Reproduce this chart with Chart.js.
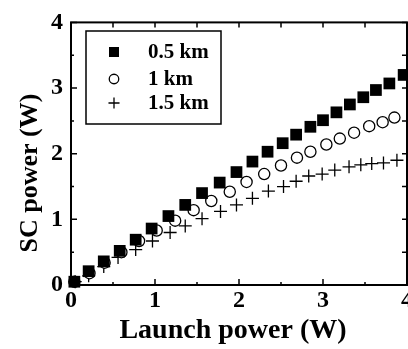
<!DOCTYPE html>
<html>
<head>
<meta charset="utf-8">
<script src="https://cdn.jsdelivr.net/npm/chart.js@4"></script>
<style>
  html, body { margin: 0; padding: 0; background: #fff; overflow: hidden; }
  canvas { display: block; }
</style>
</head>
<body>
<!-- canvas is a bit wider than the window so the right edge is cut like the original -->
<canvas id="chart" width="420" height="349"></canvas>
<script>
// SC power vs launch power, three fibre lengths
const seriesNames = ['0.5 km', '1 km', '1.5 km'];

const x05 = [0.04, 0.21, 0.39, 0.58, 0.77, 0.96, 1.16, 1.36, 1.56, 1.77, 1.97, 2.16, 2.34, 2.52, 2.68, 2.85, 3.00, 3.16, 3.32, 3.48, 3.63, 3.79, 3.96];
const y05 = [0.05, 0.21, 0.36, 0.52, 0.69, 0.86, 1.05, 1.22, 1.40, 1.56, 1.72, 1.88, 2.03, 2.16, 2.29, 2.41, 2.51, 2.63, 2.75, 2.86, 2.97, 3.07, 3.20];

const x10 = [0.04, 0.22, 0.40, 0.60, 0.81, 1.02, 1.24, 1.46, 1.67, 1.89, 2.09, 2.30, 2.50, 2.69, 2.85, 3.04, 3.20, 3.37, 3.55, 3.71, 3.85];
const y10 = [0.05, 0.18, 0.34, 0.50, 0.67, 0.83, 0.98, 1.14, 1.28, 1.42, 1.57, 1.69, 1.82, 1.94, 2.03, 2.14, 2.23, 2.32, 2.42, 2.48, 2.55];

const x15 = [0.05, 0.21, 0.39, 0.56, 0.77, 0.97, 1.18, 1.36, 1.56, 1.78, 1.97, 2.16, 2.35, 2.53, 2.68, 2.83, 2.99, 3.14, 3.31, 3.45, 3.58, 3.72, 3.88];
const y15 = [0.05, 0.14, 0.28, 0.42, 0.54, 0.67, 0.80, 0.90, 1.01, 1.12, 1.22, 1.32, 1.43, 1.50, 1.58, 1.66, 1.69, 1.75, 1.80, 1.83, 1.85, 1.86, 1.90];

const xTitle = 'Launch power (W)';
const yTitle = 'SC power (W)';
const xTicks = [0, 1, 2, 3, 4];
const yTicks = [0, 1, 2, 3, 4];

const SERIF = '"Liberation Serif", "Times New Roman", serif';

function pts(xs, ys) {
    return xs.map((x, i) => ({ x: x, y: ys[i] }));
}

// box, inside ticks on all four sides, titles
const framePlugin = {
    id: 'frame',
    afterDraw(chart) {
        const ctx = chart.ctx;
        const a = chart.chartArea;
        const xs = chart.scales.x, ys = chart.scales.y;
        ctx.save();
        ctx.strokeStyle = '#000';
        ctx.lineWidth = 1.5;
        ctx.beginPath();
        for (let v = 0; v <= 4.001; v += 0.5) {
            const len = (Math.abs(v - Math.round(v)) < 0.01) ? 6 : 3;
            const px = xs.getPixelForValue(v);
            ctx.moveTo(px, a.bottom); ctx.lineTo(px, a.bottom - len);
            ctx.moveTo(px, a.top); ctx.lineTo(px, a.top + 5);
            const py = ys.getPixelForValue(v);
            ctx.moveTo(a.left, py); ctx.lineTo(a.left + len, py);
            ctx.moveTo(a.right, py); ctx.lineTo(a.right - 5, py);
        }
        ctx.stroke();

        ctx.lineWidth = 2;
        ctx.strokeRect(a.left, a.top, a.right - a.left, a.bottom - a.top);

        ctx.fillStyle = '#000';
        ctx.font = 'bold 28px ' + SERIF;
        ctx.textAlign = 'center';
        ctx.textBaseline = 'middle';
        ctx.fillText(xTitle, 233, 331);

        ctx.translate(30, 173);
        ctx.rotate(-Math.PI / 2);
        ctx.font = 'bold 26px ' + SERIF;
        ctx.fillText(yTitle, 0, 0);
        ctx.restore();
    }
};

// legend box in upper-left corner of the plot
const legendPlugin = {
    id: 'boxLegend',
    afterDraw(chart) {
        const ctx = chart.ctx;
        ctx.save();
        ctx.strokeStyle = '#000';
        ctx.lineWidth = 1.5;
        ctx.strokeRect(86, 31, 135, 93);
        const rows = [52, 79, 103];
        chart.data.datasets.forEach((ds, i) => {
            const opts = {
                pointStyle: ds.pointStyle,
                radius: ds.pointRadius * 0.85,
                borderWidth: ds.borderWidth,
                rotation: 0
            };
            ctx.fillStyle = ds.backgroundColor;
            ctx.strokeStyle = ds.borderColor;
            ctx.lineWidth = ds.borderWidth;
            Chart.helpers.drawPoint(ctx, opts, 114, rows[i]);
            ctx.fillStyle = '#000';
            ctx.font = 'bold 21px ' + SERIF;
            ctx.textAlign = 'left';
            ctx.textBaseline = 'middle';
            ctx.fillText(ds.label, 148, rows[i] + 1);
        });
        ctx.restore();
    }
};

const tickFont = { family: SERIF, size: 24, weight: 'bold' };

new Chart(document.getElementById('chart').getContext('2d'), {
    type: 'scatter',
    data: {
        datasets: [
            {
                label: seriesNames[0],
                data: pts(x05, y05),
                pointStyle: 'rect',
                pointRadius: 8.3,
                backgroundColor: '#000',
                borderColor: '#000',
                borderWidth: 0,
                clip: false
            },
            {
                label: seriesNames[1],
                data: pts(x10, y10),
                pointStyle: 'circle',
                pointRadius: 5.6,
                backgroundColor: '#fff',
                borderColor: '#000',
                borderWidth: 1.3,
                clip: false
            },
            {
                label: seriesNames[2],
                data: pts(x15, y15),
                pointStyle: 'cross',
                pointRadius: 6.5,
                backgroundColor: '#000',
                borderColor: '#000',
                borderWidth: 1.3,
                clip: false
            }
        ]
    },
    options: {
        responsive: false,
        animation: false,
        layout: { padding: { top: 15, right: 13, left: 0, bottom: 0 } },
        plugins: { legend: { display: false }, tooltip: { enabled: false } },
        scales: {
            x: {
                type: 'linear', min: 0, max: 4,
                afterFit: (s) => { s.height = 64; },
                afterBuildTicks: (s) => { s.ticks = xTicks.map(v => ({ value: v })); },
                grid: { display: false, drawTicks: false },
                border: { display: false },
                ticks: { color: '#000', font: tickFont, padding: 1, maxRotation: 0 }
            },
            y: {
                type: 'linear', min: 0, max: 4,
                afterFit: (s) => { s.width = 71; },
                afterBuildTicks: (s) => { s.ticks = yTicks.map(v => ({ value: v })); },
                grid: { display: false, drawTicks: false },
                border: { display: false },
                ticks: { color: '#000', font: tickFont, padding: 8 }
            }
        }
    },
    plugins: [framePlugin, legendPlugin]
});
</script>
</body>
</html>
